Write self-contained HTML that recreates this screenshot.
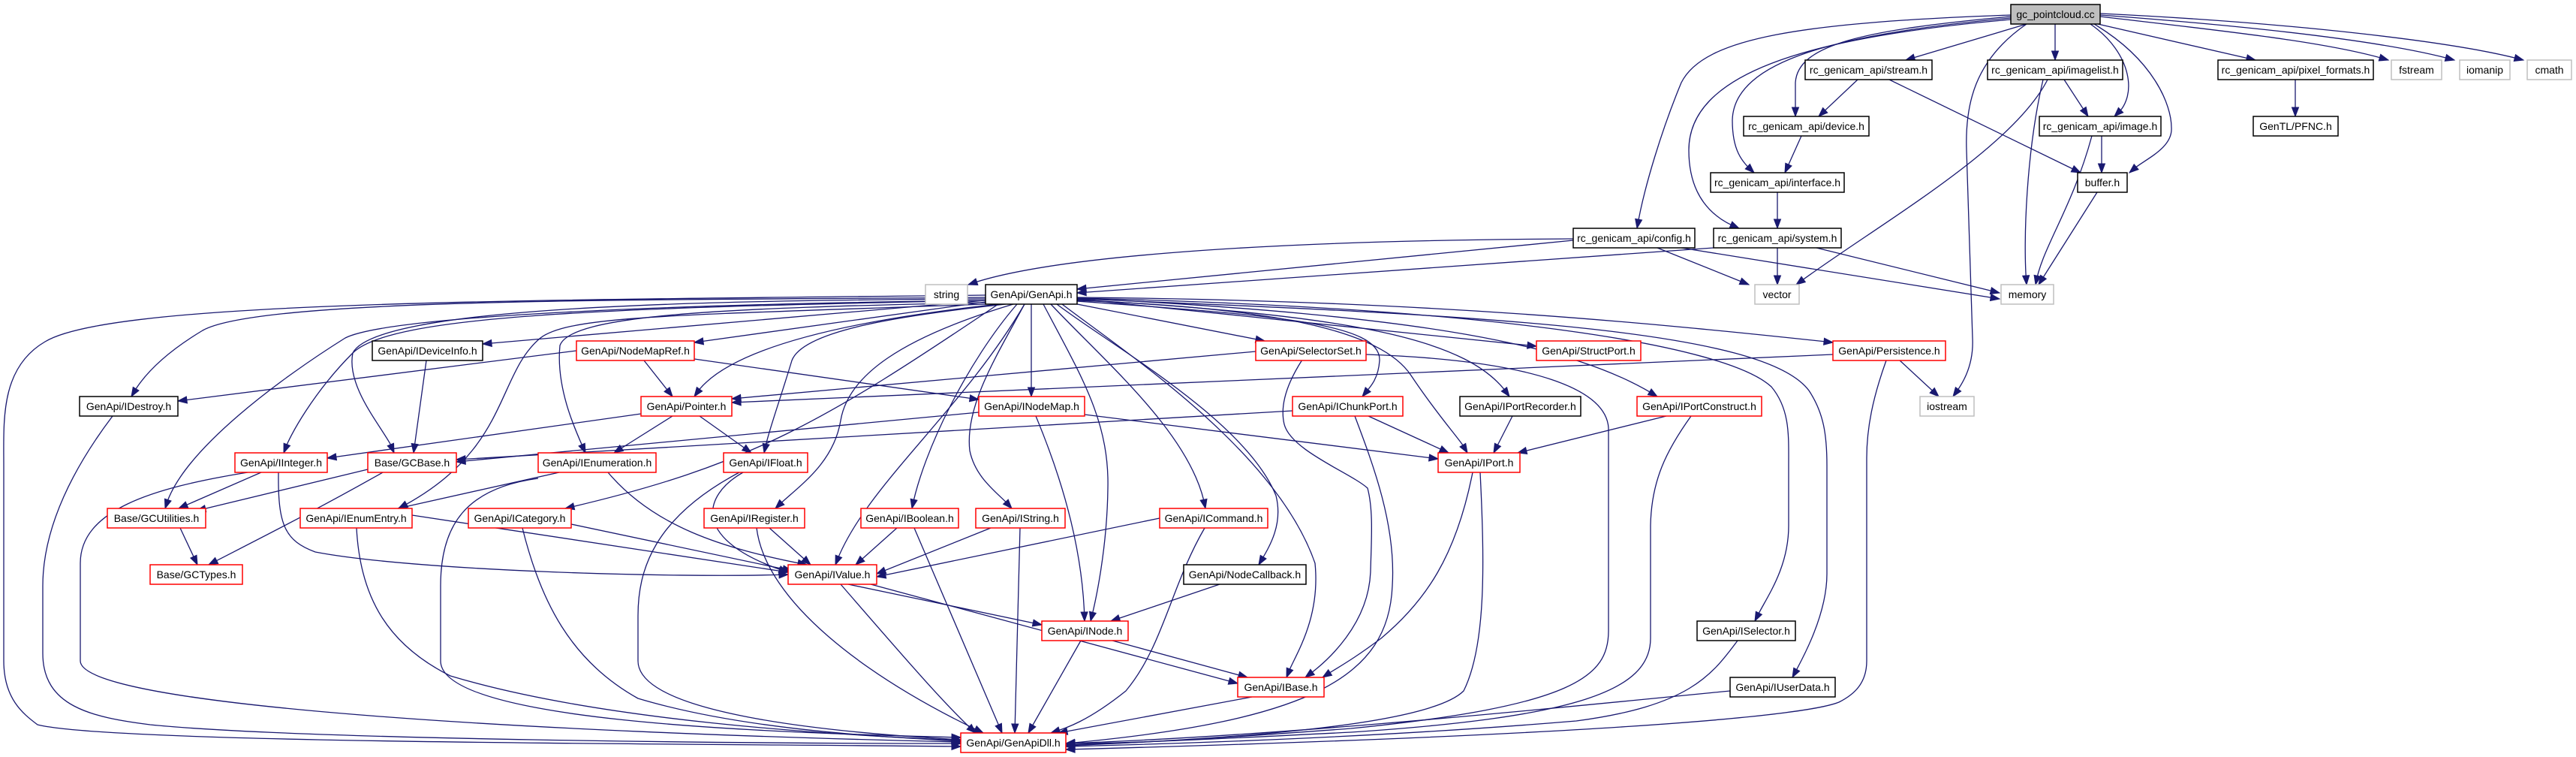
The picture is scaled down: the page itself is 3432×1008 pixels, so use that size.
<!DOCTYPE html>
<html><head><meta charset="utf-8"><style>
html,body{margin:0;padding:0;background:#fff}
svg{display:block}
text{font-family:"Liberation Sans",Arial,sans-serif;font-size:14px;fill:#000}
</style></head><body>
<svg id="g" width="3432" height="1008" viewBox="0 0 3432 1008" xmlns="http://www.w3.org/2000/svg">
<g id="edges" fill="none" stroke="#191970" stroke-width="1.3">
<path d="M2700,32 L2539,80"/>
<path d="M2738,32 L2738,80"/>
<path d="M2795,32 L3005,80"/>
<path d="M2798,22 C2950,40 3100,55 3182,80"/>
<path d="M2798,20 C3000,35 3180,55 3270,80"/>
<path d="M2798,18 C3050,30 3270,55 3362,80"/>
<path d="M2679,22 C2480,40 2395,60 2392,110 L2392,155"/>
<path d="M2679,24 C2450,45 2310,80 2308,160 C2308,200 2320,215 2337,230"/>
<path d="M2679,26 C2400,50 2250,100 2250,200 C2250,260 2280,290 2317,304"/>
<path d="M2679,20 C2400,30 2270,50 2240,110 C2215,170 2190,250 2181,304"/>
<path d="M2790,32 C2870,80 2893,140 2893,170 C2895,200 2850,215 2837,230"/>
<path d="M2785,32 C2840,70 2850,130 2817,155"/>
<path d="M2700,32 C2630,80 2618,140 2620,200 L2628,450 C2630,490 2612,515 2602,528"/>
<path d="M2728,106 C2680,200 2500,300 2393,379"/>
<path d="M2722,106 C2700,200 2695,320 2700,379"/>
<path d="M2750,106 L2782,155"/>
<path d="M2475,106 L2423,155"/>
<path d="M2517,106 L2772,230"/>
<path d="M2787,181 C2760,280 2720,330 2712,379"/>
<path d="M2800,181 L2800,230"/>
<path d="M2794,256 L2716,379"/>
<path d="M2400,181 L2378,230"/>
<path d="M2368,256 L2368,304"/>
<path d="M3058,106 L3058,155"/>
<path d="M2368,330 L2368,379"/>
<path d="M2420,330 L2664,390"/>
<path d="M2240,330 L2664,398"/>
<path d="M2208,330 L2330,379"/>
<path d="M2283,330 L1435,390"/>
<path d="M2096,320 L1435,385"/>
<path d="M2096,318 C1700,320 1400,340 1290,379"/>
<path d="M1313,393 C700,400 150,400 60,455 C0,490 5,560 5,620 L5,880 C5,930 30,950 50,965 C150,990 900,990 1280,994"/>
<path d="M1313,396 C900,400 350,395 270,440 C220,470 190,500 175,528"/>
<path d="M1313,400 L643,458"/>
<path d="M1313,402 L925,456"/>
<path d="M1313,400 C900,405 520,420 460,450 C380,500 240,600 220,677"/>
<path d="M1313,400 C800,410 520,420 470,470 C420,520 385,580 378,603"/>
<path d="M1313,398 C900,400 500,410 470,470 C460,520 520,580 525,603"/>
<path d="M1313,405 C900,420 760,420 720,450 C660,500 680,600 531,677"/>
<path d="M1330,405 C1100,560 1000,620 753,677"/>
<path d="M1313,403 C950,410 760,420 746,460 C740,520 770,580 780,603"/>
<path d="M1330,405 C1100,430 960,470 925,528"/>
<path d="M1340,405 C1200,420 1070,440 1055,480 C1040,530 1022,580 1018,603"/>
<path d="M1350,405 C1200,450 1130,500 1120,560 C1110,620 1060,650 1033,677"/>
<path d="M1355,405 C1290,480 1230,600 1215,677"/>
<path d="M1365,405 C1280,550 1150,650 1113,752"/>
<path d="M1374,405 L1374,528"/>
<path d="M1365,405 C1330,470 1285,540 1292,600 C1300,640 1335,660 1348,677"/>
<path d="M1390,405 C1440,500 1478,560 1476,650 C1475,730 1460,800 1453,827"/>
<path d="M1400,405 C1470,480 1590,580 1606,677"/>
<path d="M1408,405 C1480,460 1660,560 1700,660 C1710,700 1690,730 1677,752"/>
<path d="M1415,405 C1500,470 1700,600 1752,750 C1760,830 1720,880 1714,902"/>
<path d="M1435,405 L1685,454"/>
<path d="M1435,401 C1700,420 1840,430 1838,480 C1836,510 1820,520 1815,528"/>
<path d="M1435,400 C1700,410 1840,440 1880,500 C1920,560 1950,590 1955,603"/>
<path d="M1435,399 C1800,420 1960,450 2011,528"/>
<path d="M1435,398 L2047,461"/>
<path d="M1435,397 C1900,420 2100,460 2208,528"/>
<path d="M1435,397 C2000,410 2300,460 2360,515 C2385,545 2383,580 2383,620 L2383,700 C2383,760 2350,800 2338,827"/>
<path d="M1435,398 C2000,420 2350,440 2410,520 C2430,550 2434,580 2434,620 L2434,764 C2434,820 2400,880 2388,902"/>
<path d="M1435,396 C1900,400 2200,430 2442,456"/>
<path d="M2442,472 L975,536"/>
<path d="M1673,468 L975,531"/>
<path d="M2530,479 L2583,528"/>
<path d="M2513,480 C2495,530 2487,570 2487,610 L2487,880 C2487,910 2470,925 2450,935 C2400,955 2100,980 1420,998"/>
<path d="M1820,472 C2050,480 2140,520 2143,570 L2143,840 C2143,900 2100,940 1800,970 C1600,985 1500,990 1420,992"/>
<path d="M1735,479 C1715,510 1705,540 1711,565 C1720,600 1800,630 1822,650 C1830,680 1827,720 1826,760 C1824,830 1770,880 1739,902"/>
<path d="M1823,554 L1930,603"/>
<path d="M1805,554 C1830,620 1860,700 1855,780 C1850,900 1750,960 1420,990"/>
<path d="M1722,547 L608,612"/>
<path d="M2015,554 L1990,603"/>
<path d="M2220,554 L2022,603"/>
<path d="M2253,554 C2220,600 2200,640 2199,700 L2199,850 C2199,920 2100,955 1800,975 C1600,985 1500,990 1420,990"/>
<path d="M1962,629 C1940,740 1900,800 1840,850 C1800,880 1780,890 1762,902"/>
<path d="M1972,629 C1978,750 1980,860 1950,920 C1900,970 1600,985 1420,993"/>
<path d="M2315,853 C2280,900 2250,940 2100,960 C1800,985 1500,992 1420,994"/>
<path d="M2305,920 C2000,950 1700,980 1420,990"/>
<path d="M1668,928 L1410,976"/>
<path d="M1482,853 L1662,902"/>
<path d="M1440,853 L1370,976"/>
<path d="M1130,778 L1388,832"/>
<path d="M1160,778 L1649,910"/>
<path d="M1120,778 C1200,870 1260,940 1300,976"/>
<path d="M1625,778 L1480,827"/>
<path d="M1545,690 L1168,768"/>
<path d="M1605,703 C1560,780 1550,860 1500,920 C1450,960 1420,970 1400,976"/>
<path d="M1320,703 L1168,764"/>
<path d="M1359,703 L1352,976"/>
<path d="M1195,703 L1140,752"/>
<path d="M1218,703 L1335,976"/>
<path d="M1025,703 L1080,752"/>
<path d="M1008,703 C1020,800 1150,900 1310,976"/>
<path d="M990,629 C935,660 920,720 1050,762"/>
<path d="M985,629 C870,690 850,760 850,820 L850,880 C850,950 1100,975 1280,985"/>
<path d="M810,629 C870,700 960,730 1075,752"/>
<path d="M745,629 L530,677"/>
<path d="M717,637 C620,650 587,700 587,780 L587,880 C587,960 1000,975 1280,982"/>
<path d="M549,686 L1050,762"/>
<path d="M475,703 C480,800 520,860 600,900 C800,960 1100,978 1280,986"/>
<path d="M761,698 L1055,760"/>
<path d="M696,703 C720,800 760,880 850,930 C1000,975 1200,982 1280,987"/>
<path d="M348,629 L238,677"/>
<path d="M371,629 C370,700 380,720 420,735 C550,760 900,770 1050,765"/>
<path d="M330,629 C200,650 107,680 107,750 L107,880 C107,940 700,975 1280,988"/>
<path d="M490,625 L262,680"/>
<path d="M510,629 C420,680 340,720 278,752"/>
<path d="M240,703 L263,752"/>
<path d="M568,480 L551,603"/>
<path d="M768,467 L237,534"/>
<path d="M858,480 L896,528"/>
<path d="M925,478 L1304,532"/>
<path d="M854,551 L436,610"/>
<path d="M896,554 L818,603"/>
<path d="M932,554 L1001,603"/>
<path d="M1304,549 L608,615"/>
<path d="M1445,552 L1916,611"/>
<path d="M1380,554 C1420,650 1443,740 1445,827"/>
<path d="M150,554 C100,620 57,700 57,780 L57,870 C57,940 120,955 200,965 C400,985 1000,990 1280,990"/>
</g>
<g id="arrows" fill="#191970" stroke="#191970" stroke-width="1"></g>
<g id="nodes" stroke-width="1.5">
<rect x="2679" y="6" width="119" height="26" fill="#bfbfbf" stroke="#000"/><text x="2738.5" y="24" text-anchor="middle">gc_pointcloud.cc</text>
<rect x="2405" y="80" width="169" height="26" fill="#fff" stroke="#000"/><text x="2489.5" y="98" text-anchor="middle">rc_genicam_api/stream.h</text>
<rect x="2648" y="80" width="180" height="26" fill="#fff" stroke="#000"/><text x="2738" y="98" text-anchor="middle">rc_genicam_api/imagelist.h</text>
<rect x="2955" y="80" width="207" height="26" fill="#fff" stroke="#000"/><text x="3058.5" y="98" text-anchor="middle">rc_genicam_api/pixel_formats.h</text>
<rect x="3186" y="80" width="67" height="26" fill="#fff" stroke="#bfbfbf"/><text x="3219.5" y="98" text-anchor="middle">fstream</text>
<rect x="3277" y="80" width="67" height="26" fill="#fff" stroke="#bfbfbf"/><text x="3310.5" y="98" text-anchor="middle">iomanip</text>
<rect x="3367" y="80" width="59" height="26" fill="#fff" stroke="#bfbfbf"/><text x="3396.5" y="98" text-anchor="middle">cmath</text>
<rect x="2323" y="155" width="167" height="26" fill="#fff" stroke="#000"/><text x="2406.5" y="173" text-anchor="middle">rc_genicam_api/device.h</text>
<rect x="2717" y="155" width="162" height="26" fill="#fff" stroke="#000"/><text x="2798" y="173" text-anchor="middle">rc_genicam_api/image.h</text>
<rect x="3002" y="155" width="113" height="26" fill="#fff" stroke="#000"/><text x="3058.5" y="173" text-anchor="middle">GenTL/PFNC.h</text>
<rect x="2279" y="230" width="178" height="26" fill="#fff" stroke="#000"/><text x="2368" y="248" text-anchor="middle">rc_genicam_api/interface.h</text>
<rect x="2768" y="230" width="66" height="26" fill="#fff" stroke="#000"/><text x="2801" y="248" text-anchor="middle">buffer.h</text>
<rect x="2096" y="304" width="162" height="26" fill="#fff" stroke="#000"/><text x="2177" y="322" text-anchor="middle">rc_genicam_api/config.h</text>
<rect x="2283" y="304" width="170" height="26" fill="#fff" stroke="#000"/><text x="2368" y="322" text-anchor="middle">rc_genicam_api/system.h</text>
<rect x="2338" y="379" width="59" height="26" fill="#fff" stroke="#bfbfbf"/><text x="2367.5" y="397" text-anchor="middle">vector</text>
<rect x="2666" y="379" width="70" height="26" fill="#fff" stroke="#bfbfbf"/><text x="2701" y="397" text-anchor="middle">memory</text>
<rect x="1233" y="379" width="56" height="26" fill="#fff" stroke="#bfbfbf"/><text x="1261" y="397" text-anchor="middle">string</text>
<rect x="1313" y="379" width="122" height="26" fill="#fff" stroke="#000"/><text x="1374" y="397" text-anchor="middle">GenApi/GenApi.h</text>
<rect x="496" y="454" width="147" height="26" fill="#fff" stroke="#000"/><text x="569.5" y="472" text-anchor="middle">GenApi/IDeviceInfo.h</text>
<rect x="768" y="454" width="157" height="26" fill="#fff" stroke="#f00"/><text x="846.5" y="472" text-anchor="middle">GenApi/NodeMapRef.h</text>
<rect x="1673" y="454" width="147" height="26" fill="#fff" stroke="#f00"/><text x="1746.5" y="472" text-anchor="middle">GenApi/SelectorSet.h</text>
<rect x="2047" y="454" width="139" height="26" fill="#fff" stroke="#f00"/><text x="2116.5" y="472" text-anchor="middle">GenApi/StructPort.h</text>
<rect x="2442" y="454" width="150" height="26" fill="#fff" stroke="#f00"/><text x="2517" y="472" text-anchor="middle">GenApi/Persistence.h</text>
<rect x="106" y="528" width="131" height="26" fill="#fff" stroke="#000"/><text x="171.5" y="546" text-anchor="middle">GenApi/IDestroy.h</text>
<rect x="854" y="528" width="121" height="26" fill="#fff" stroke="#f00"/><text x="914.5" y="546" text-anchor="middle">GenApi/Pointer.h</text>
<rect x="1304" y="528" width="141" height="26" fill="#fff" stroke="#f00"/><text x="1374.5" y="546" text-anchor="middle">GenApi/INodeMap.h</text>
<rect x="1722" y="528" width="147" height="26" fill="#fff" stroke="#f00"/><text x="1795.5" y="546" text-anchor="middle">GenApi/IChunkPort.h</text>
<rect x="1945" y="528" width="161" height="26" fill="#fff" stroke="#000"/><text x="2025.5" y="546" text-anchor="middle">GenApi/IPortRecorder.h</text>
<rect x="2181" y="528" width="166" height="26" fill="#fff" stroke="#f00"/><text x="2264" y="546" text-anchor="middle">GenApi/IPortConstruct.h</text>
<rect x="2558" y="528" width="72" height="26" fill="#fff" stroke="#bfbfbf"/><text x="2594" y="546" text-anchor="middle">iostream</text>
<rect x="313" y="603" width="123" height="26" fill="#fff" stroke="#f00"/><text x="374.5" y="621" text-anchor="middle">GenApi/IInteger.h</text>
<rect x="490" y="603" width="118" height="26" fill="#fff" stroke="#f00"/><text x="549" y="621" text-anchor="middle">Base/GCBase.h</text>
<rect x="717" y="603" width="157" height="26" fill="#fff" stroke="#f00"/><text x="795.5" y="621" text-anchor="middle">GenApi/IEnumeration.h</text>
<rect x="964" y="603" width="112" height="26" fill="#fff" stroke="#f00"/><text x="1020" y="621" text-anchor="middle">GenApi/IFloat.h</text>
<rect x="1916" y="603" width="109" height="26" fill="#fff" stroke="#f00"/><text x="1970.5" y="621" text-anchor="middle">GenApi/IPort.h</text>
<rect x="143" y="677" width="131" height="26" fill="#fff" stroke="#f00"/><text x="208.5" y="695" text-anchor="middle">Base/GCUtilities.h</text>
<rect x="400" y="677" width="149" height="26" fill="#fff" stroke="#f00"/><text x="474.5" y="695" text-anchor="middle">GenApi/IEnumEntry.h</text>
<rect x="624" y="677" width="137" height="26" fill="#fff" stroke="#f00"/><text x="692.5" y="695" text-anchor="middle">GenApi/ICategory.h</text>
<rect x="938" y="677" width="134" height="26" fill="#fff" stroke="#f00"/><text x="1005" y="695" text-anchor="middle">GenApi/IRegister.h</text>
<rect x="1147" y="677" width="130" height="26" fill="#fff" stroke="#f00"/><text x="1212" y="695" text-anchor="middle">GenApi/IBoolean.h</text>
<rect x="1300" y="677" width="119" height="26" fill="#fff" stroke="#f00"/><text x="1359.5" y="695" text-anchor="middle">GenApi/IString.h</text>
<rect x="1545" y="677" width="144" height="26" fill="#fff" stroke="#f00"/><text x="1617" y="695" text-anchor="middle">GenApi/ICommand.h</text>
<rect x="200" y="752" width="123" height="26" fill="#fff" stroke="#f00"/><text x="261.5" y="770" text-anchor="middle">Base/GCTypes.h</text>
<rect x="1050" y="752" width="118" height="26" fill="#fff" stroke="#f00"/><text x="1109" y="770" text-anchor="middle">GenApi/IValue.h</text>
<rect x="1577" y="752" width="163" height="26" fill="#fff" stroke="#000"/><text x="1658.5" y="770" text-anchor="middle">GenApi/NodeCallback.h</text>
<rect x="1388" y="827" width="115" height="26" fill="#fff" stroke="#f00"/><text x="1445.5" y="845" text-anchor="middle">GenApi/INode.h</text>
<rect x="2261" y="827" width="131" height="26" fill="#fff" stroke="#000"/><text x="2326.5" y="845" text-anchor="middle">GenApi/ISelector.h</text>
<rect x="1649" y="902" width="115" height="26" fill="#fff" stroke="#f00"/><text x="1706.5" y="920" text-anchor="middle">GenApi/IBase.h</text>
<rect x="2305" y="902" width="140" height="26" fill="#fff" stroke="#000"/><text x="2375" y="920" text-anchor="middle">GenApi/IUserData.h</text>
<rect x="1280" y="976" width="140" height="26" fill="#fff" stroke="#f00"/><text x="1350" y="994" text-anchor="middle">GenApi/GenApiDll.h</text>
</g>
</svg>
<script>
(function(){
var ns="http://www.w3.org/2000/svg";
var ps=document.querySelectorAll('#edges path');
var ag=document.getElementById('arrows');
for(var i=0;i<ps.length;i++){
 var p=ps[i],L=p.getTotalLength();
 var e=p.getPointAtLength(L),b=p.getPointAtLength(Math.max(0,L-12));
 var dx=e.x-b.x,dy=e.y-b.y,d=Math.sqrt(dx*dx+dy*dy)||1;dx/=d;dy/=d;
 var bx=e.x-dx*12,by=e.y-dy*12,w=4.5;
 var t=document.createElementNS(ns,'polygon');
 t.setAttribute('points',e.x+','+e.y+' '+(bx-dy*w)+','+(by+dx*w)+' '+(bx+dy*w)+','+(by-dx*w));
 ag.appendChild(t);
}
})();
</script>
</body></html>
